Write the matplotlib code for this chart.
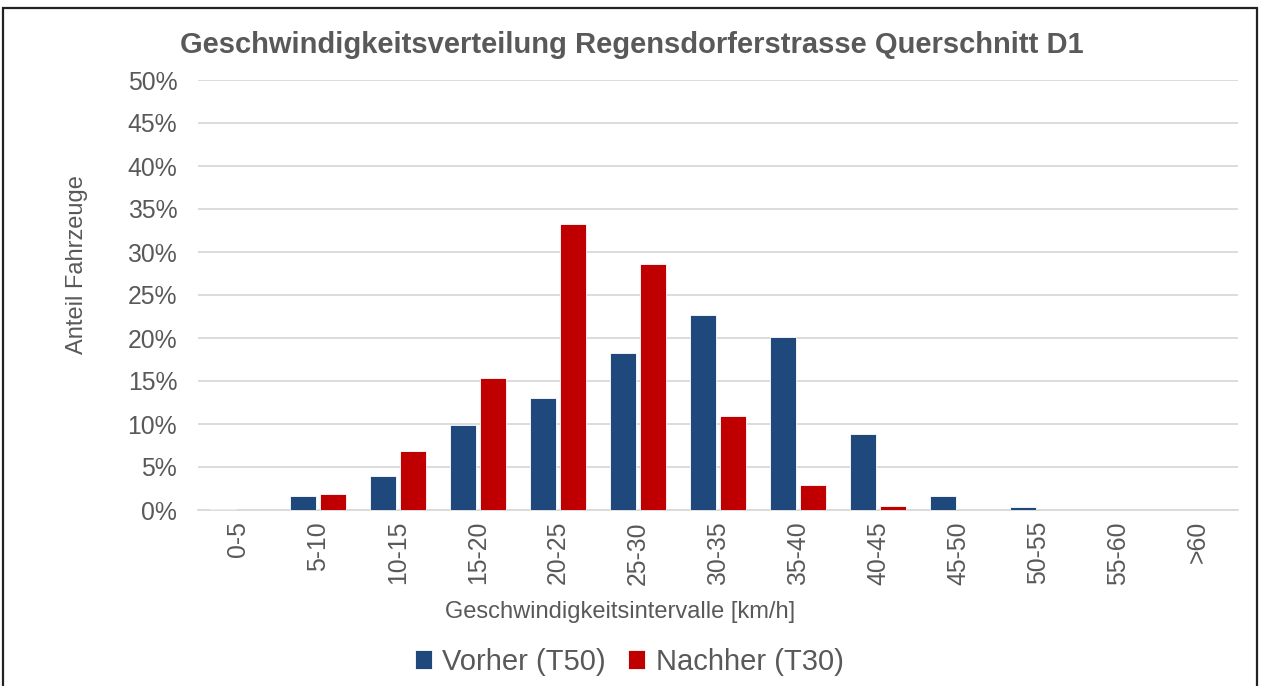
import numpy as np
import matplotlib.pyplot as plt
from matplotlib.patches import Rectangle

# Daten (Anteil in %)
kategorien = ['0-5', '5-10', '10-15', '15-20', '20-25', '25-30', '30-35',
              '35-40', '40-45', '45-50', '50-55', '55-60', '>60']
vorher = [0.1, 1.6, 3.95, 9.9, 13.0, 18.3, 22.7, 20.1, 8.8, 1.6, 0.3, 0.0, 0.0]
nachher = [0.0, 1.9, 6.9, 15.3, 33.3, 28.6, 10.9, 2.9, 0.5, 0.0, 0.0, 0.0, 0.0]

BLAU = '#1F497D'
ROT = '#C00000'
GRAU = '#595959'

plt.rcParams['font.family'] = ['Liberation Sans', 'DejaVu Sans']

fig = plt.figure(figsize=(12.66, 6.86), dpi=100)
ax = fig.add_axes([198 / 1266, 1 - 510 / 686, 1040 / 1266, 430 / 686])

x = np.arange(len(kategorien))
w = 0.325
ax.bar(x - 0.19, vorher, w, color=BLAU, edgecolor='white', linewidth=0.6,
       label='Vorher (T50)', zorder=3)
ax.bar(x + 0.19, nachher, w, color=ROT, edgecolor='white', linewidth=0.6,
       label='Nachher (T30)', zorder=3)

ax.set_xlim(-0.5, len(kategorien) - 0.5)
ax.set_ylim(0, 50)
ax.set_yticks(np.arange(0, 51, 5))
ax.set_yticklabels([f'{v}%' for v in range(0, 51, 5)])
ax.set_xticks(x)
ax.set_xticklabels(kategorien, rotation=90)
ax.tick_params(axis='both', length=0, labelsize=17.8, colors=GRAU)
ax.tick_params(axis='x', pad=8)
ax.tick_params(axis='y', pad=15)
ax.yaxis.grid(True, color='#D9D9D9', linewidth=1.3, zorder=0)
for s in ['top', 'right', 'left']:
    ax.spines[s].set_visible(False)
ax.spines['bottom'].set_color('#D9D9D9')
ax.spines['bottom'].set_linewidth(1.3)

ax.set_ylabel('Anteil Fahrzeuge', fontsize=17, color=GRAU)
ax.yaxis.set_label_coords((88 - 198) / 1040, (510 - 265) / 430)
ax.set_xlabel('Geschwindigkeitsintervalle [km/h]', fontsize=17, color=GRAU)
ax.xaxis.set_label_coords((620 - 198) / 1040, -(601 - 510) / 430)

fig.text(632 / 1266, 1 - 45 / 686, 'Geschwindigkeitsverteilung Regensdorferstrasse Querschnitt D1',
         ha='center', va='center', fontsize=21, fontweight='bold', color=GRAU)

fig.legend(loc='center', bbox_to_anchor=(629 / 1266, 1 - 662 / 686), ncol=2, frameon=False,
           fontsize=21, handlelength=0.6, handleheight=0.6, handletextpad=0.35,
           columnspacing=0.75, labelcolor=GRAU)

# Rahmen
fig.patches.append(Rectangle((3 / 1266, -0.05), 1254 / 1266, 1.05 - 8 / 686,
                             transform=fig.transFigure, fill=False,
                             edgecolor='#222222', linewidth=1.6))

fig.savefig('out.png', dpi=100)
